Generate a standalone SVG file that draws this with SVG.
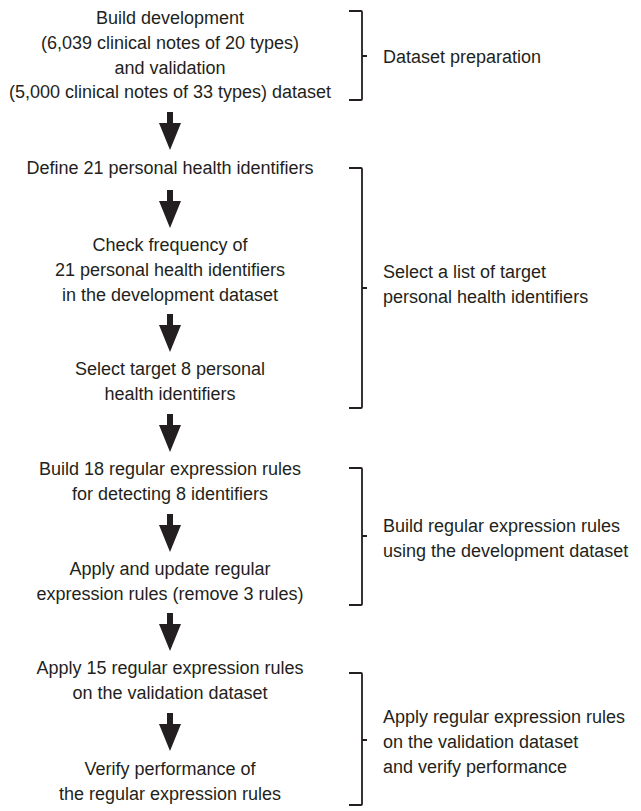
<svg xmlns="http://www.w3.org/2000/svg" width="641" height="811" viewBox="0 0 641 811">
<defs>
<style>
text{font-family:"Liberation Sans",Arial,sans-serif;font-size:18px;fill:#231f20}
.c{text-anchor:middle}
.l{text-anchor:start}
.br{fill:none;stroke:#231f20;stroke-width:1.8}
.ar{fill:#231f20}
</style>
<path id="arrow" d="M-3,0 H3 V11 H11 L0,38 L-11,11 H-3 Z"/>
</defs>
<rect width="641" height="811" fill="#fff"/>
<g id="n1"><text class="c" x="170" y="24">Build development</text><text class="c" x="170" y="49">(6,039 clinical notes of 20 types)</text><text class="c" x="170" y="74">and validation</text><text class="c" x="170" y="98">(5,000 clinical notes of 33 types) dataset</text></g>
<g id="n2"><text class="c" x="170" y="174">Define 21 personal health identifiers</text></g>
<g id="n3"><text class="c" x="170" y="251">Check frequency of</text><text class="c" x="170" y="276">21 personal health identifiers</text><text class="c" x="170" y="301">in the development dataset</text></g>
<g id="n4"><text class="c" x="170" y="375">Select target 8 personal</text><text class="c" x="170" y="400">health identifiers</text></g>
<g id="n5"><text class="c" x="170" y="475">Build 18 regular expression rules</text><text class="c" x="170" y="500">for detecting 8 identifiers</text></g>
<g id="n6"><text class="c" x="170" y="575">Apply and update regular</text><text class="c" x="170" y="600">expression rules (remove 3 rules)</text></g>
<g id="n7"><text class="c" x="170" y="674">Apply 15 regular expression rules</text><text class="c" x="170" y="699">on the validation dataset</text></g>
<g id="n8"><text class="c" x="170" y="775">Verify performance of</text><text class="c" x="170" y="800">the regular expression rules</text></g>
<g id="connectors" class="ar">
<use href="#arrow" x="170" y="112"/>
<use href="#arrow" x="170" y="190"/>
<use href="#arrow" x="170" y="314"/>
<use href="#arrow" x="170" y="414"/>
<use href="#arrow" x="170" y="514"/>
<use href="#arrow" x="170" y="613"/>
<use href="#arrow" x="170" y="713"/>
</g>
<g id="b1"><path class="br" d="M349,11 H361 Q362,11 362,12 V99 Q362,100 361,100 H349 M362,56 H367"/><text class="l" x="383" y="63">Dataset preparation</text></g>
<g id="b2"><path class="br" d="M349,168 H361 Q362,168 362,169 V407 Q362,408 361,408 H349 M362,288 H367"/><text class="l" x="383" y="278">Select a list of target</text><text class="l" x="383" y="303">personal health identifiers</text></g>
<g id="b3"><path class="br" d="M349,468 H361 Q362,468 362,469 V604 Q362,605 361,605 H349 M362,536 H367"/><text class="l" x="383" y="532">Build regular expression rules</text><text class="l" x="383" y="557">using the development dataset</text></g>
<g id="b4"><path class="br" d="M349,673 H361 Q362,673 362,674 V804 Q362,805 361,805 H349 M362,740 H367"/><text class="l" x="383" y="723">Apply regular expression rules</text><text class="l" x="383" y="748">on the validation dataset</text><text class="l" x="383" y="773">and verify performance</text></g>
</svg>
